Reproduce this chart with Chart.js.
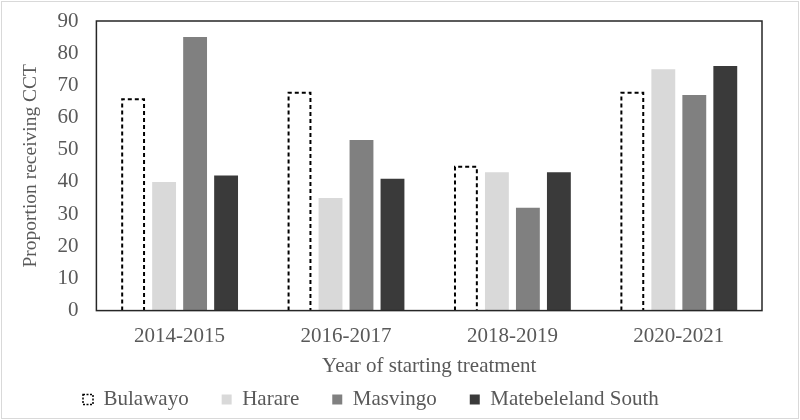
<!DOCTYPE html>
<html>
<head>
<meta charset="utf-8">
<script src="https://cdn.jsdelivr.net/npm/chart.js@4"></script>
<style>
  html, body { margin: 0; padding: 0; background: #fff; }
  canvas { display: block; }
</style>
</head>
<body>
<canvas id="chart" width="800" height="420"></canvas>
<script>
// categories and series
const years      = ["2014-2015", "2016-2017", "2018-2019", "2020-2021"];
const bulawayo   = [66, 68, 45, 68];
const harare     = [40, 35, 43, 75];
const masvingo   = [85, 53, 32, 67];
const matSouth   = [42, 41, 43, 76];
const yTicks     = [0, 10, 20, 30, 40, 50, 60, 70, 80, 90];

// colours
const COL_TEXT = "#595959";
const COL_HAR  = "#d9d9d9";
const COL_MAS  = "#808080";
const COL_MAT  = "#3a3a3a";
const FONT     = "'Liberation Serif', 'Times New Roman', serif";

Chart.defaults.font.family = FONT;
Chart.defaults.color = COL_TEXT;

// dashed outline for the Bulawayo bars, plot box, frame
const dashPlugin = {
  id: "dashBars",
  beforeDraw(chart) {
    const ctx = chart.ctx;
    ctx.save();
    ctx.strokeStyle = "#d9d9d9";
    ctx.lineWidth = 1;
    ctx.strokeRect(1.5, 1.5, chart.width - 3, chart.height - 3);
    ctx.restore();
    // legend sits left of centre in the original
    if (chart.legend) {
      chart.legend.left = 50;
      chart.legend.top = 356;
    }
  },
  afterDatasetsDraw(chart) {
    const ctx = chart.ctx;
    const meta = chart.getDatasetMeta(0);
    ctx.save();
    ctx.strokeStyle = "#000";
    ctx.lineWidth = 2;
    ctx.setLineDash([4, 3]);
    meta.data.forEach(bar => {
      const l = bar.x - bar.width / 2 + 1, r = bar.x + bar.width / 2 - 1;
      ctx.beginPath();
      ctx.moveTo(l, bar.base);
      ctx.lineTo(l, bar.y + 1);
      ctx.lineTo(r, bar.y + 1);
      ctx.lineTo(r, bar.base);
      ctx.stroke();
    });
    ctx.restore();

    const a = chart.chartArea;
    ctx.save();
    ctx.strokeStyle = "#262626";
    ctx.lineWidth = 1.5;
    ctx.strokeRect(a.left, a.top, a.right - a.left, a.bottom - a.top);
    ctx.restore();
  }
};

new Chart(document.getElementById("chart").getContext("2d"), {
  type: "bar",
  data: {
    labels: years,
    datasets: [
      { label: "Bulawayo", data: bulawayo, backgroundColor: "#fff", borderColor: "#000",
        borderWidth: 0 },
      { label: "Harare", data: harare, backgroundColor: COL_HAR, borderWidth: 0 },
      { label: "Masvingo", data: masvingo, backgroundColor: COL_MAS, borderWidth: 0 },
      { label: "Matebeleland South", data: matSouth, backgroundColor: COL_MAT, borderWidth: 0 }
    ]
  },
  options: {
    responsive: false,
    animation: false,
    layout: { padding: { top: 21, right: 38, left: 19, bottom: 0 } },
    datasets: { bar: { barPercentage: 0.77, categoryPercentage: 0.745 } },
    plugins: {
      legend: {
        position: "bottom",
        align: "start",
        maxHeight: 41,
        labels: {
          color: COL_TEXT,
          font: { family: FONT, size: 21 },
          boxWidth: 10,
          boxHeight: 10,
          padding: 33,
          generateLabels: chart => {
            const items = Chart.defaults.plugins.legend.labels.generateLabels(chart);
            items[0].lineWidth = 1.5;
            items[0].lineDash = [2, 1.5];
            return items;
          }
        }
      },
      tooltip: { enabled: false }
    },
    scales: {
      x: {
        grid: { display: false, drawTicks: false },
        border: { display: false },
        ticks: { color: COL_TEXT, font: { family: FONT, size: 21 }, padding: 13 },
        title: { display: true, text: "Year of starting treatment", color: COL_TEXT,
                 font: { family: FONT, size: 21 }, padding: { top: -8, bottom: 0 } }
      },
      y: {
        min: 0, max: 90,
        afterBuildTicks: axis => { axis.ticks = yTicks.map(v => ({ value: v })); },
        grid: { display: false, drawTicks: false },
        border: { display: false },
        ticks: { color: COL_TEXT, font: { family: FONT, size: 21, lineHeight: 0.1 }, padding: 18 },
        title: { display: true, text: "Proportion receiving CCT", color: COL_TEXT,
                 font: { family: FONT, size: 19.5 }, padding: { top: 0, bottom: -3 } }
      }
    }
  },
  plugins: [dashPlugin]
});
</script>
</body>
</html>
